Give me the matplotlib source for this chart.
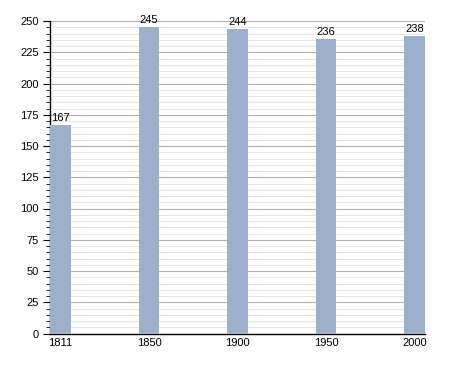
import matplotlib
matplotlib.use("Agg")
import matplotlib.pyplot as plt
from matplotlib.ticker import MultipleLocator

years = ["1811", "1850", "1900", "1950", "2000"]
population = [167, 245, 244, 236, 238]

plt.rcParams['font.family'] = ['Liberation Sans', 'DejaVu Sans']

fig = plt.figure(figsize=(4.55, 3.73), dpi=100)
ax = fig.add_axes([50/455, 1 - 333.5/373, 375/455, (333.5-21)/373])

w = 0.237
x = list(range(len(years)))
ax.bar(x, population, width=w, color="#9ab0cb", zorder=3)
for xi, v in zip(x, population):
    ax.text(xi, v + 1.5, str(v), ha="center", va="bottom", fontsize=8, zorder=4)

ax.set_xlim(-w/2, len(years) - 1 + w/2)
ax.set_ylim(0, 250)
ax.set_xticks(x)
ax.set_xticklabels(years)
ax.yaxis.set_major_locator(MultipleLocator(25))
ax.yaxis.set_minor_locator(MultipleLocator(5))
ax.grid(axis="y", which="major", color="#b0b0b0", linewidth=0.8, zorder=1)
ax.grid(axis="y", which="minor", color="#e6e6e6", linewidth=0.7, zorder=0)
ax.tick_params(axis="x", length=0, labelsize=8, pad=3)
ax.tick_params(axis="y", which="major", length=5, width=0.8, labelsize=8, pad=3)
ax.tick_params(axis="y", which="minor", length=3, width=0.6)
for s in ["top", "right"]:
    ax.spines[s].set_visible(False)
ax.spines["left"].set_linewidth(1.0)
ax.spines["bottom"].set_linewidth(1.0)

fig.savefig("out.png", dpi=100)
